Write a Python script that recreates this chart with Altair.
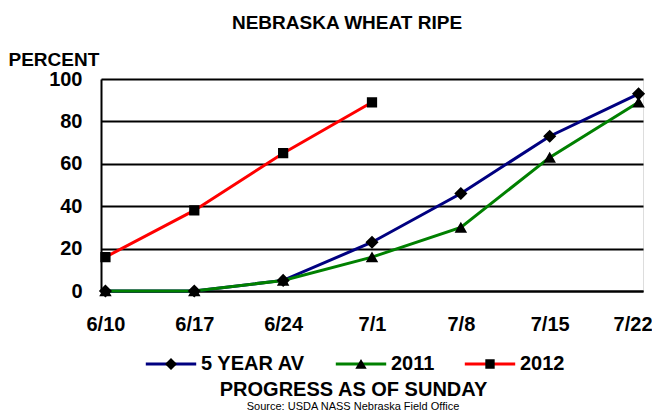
import altair as alt
import pandas as pd

dates = ["6/10", "6/17", "6/24", "7/1", "7/8", "7/15", "7/22"]
series = ["5 YEAR AV", "2011", "2012"]
avg5 = [0, 0, 5, 23, 46, 73, 93]
y2011 = [0, 0, 5, 16, 30, 63, 89]
y2012 = [16, 38, 65, 89]
colors = ["#000080", "#008000", "#FF0000"]

# marker paths (unit box), with invisible extents matching the legend line length
EXT = "M-4.2,0Z M4.2,0Z "
shapes = [
    EXT + "M-1,0 L0,-1 L1,0 L0,1 Z",
    EXT + "M0,-0.85 L0.95,0.8 L-0.95,0.8 Z",
    EXT + "M-0.78,-0.78 L0.78,-0.78 L0.78,0.78 L-0.78,0.78 Z",
]
LINE_SYMBOL = "M-4.2,0 L4.2,0"

rows = []
for name, vals in zip(series, [avg5, y2011, y2012]):
    for i, v in enumerate(vals):
        rows.append({"date": dates[i], "series": name, "series_m": name, "value": v,
                     "order": series.index(name)})
df = pd.DataFrame(rows)

FONT = "Liberation Sans"
SYM_SIZE = 144

x_enc = alt.X(
    "date:N", sort=dates,
    scale=alt.Scale(type="point", padding=0.05),
    axis=alt.Axis(
        labelAngle=0, labelFont=FONT, labelFontWeight="bold", labelFontSize=20,
        labelColor="black", labelPadding=23, ticks=False,
        labelOffset=alt.ExprRef(expr="datum.value === '7/22' ? -6 : 0"),
        domainColor="black", domainWidth=2,
        title="PROGRESS AS OF SUNDAY", titleFont=FONT, titleFontWeight="bold",
        titleFontSize=20, titleColor="black", titleX=252, titleY=98,
        titleAlign="center", titleBaseline="middle", titleAnchor="middle",
    ),
)
y_enc = alt.Y(
    "value:Q",
    scale=alt.Scale(domain=[0, 100], nice=False),
    axis=alt.Axis(
        values=[0, 20, 40, 60, 80, 100], grid=True, gridColor="black", gridWidth=2,
        gridOpacity=1, ticks=False, domainColor="black", domainWidth=2,
        labelFont=FONT, labelFontWeight="bold", labelFontSize=20, labelColor="black",
        labelPadding=19,
        title="PERCENT", titleFont=FONT, titleFontWeight="bold", titleFontSize=19,
        titleColor="black", titleAngle=0, titleX=-93, titleY=-20,
        titleAlign="left", titleBaseline="middle",
    ),
)

legend_common = dict(
    orient="none", legendX=41, legendY=275, direction="horizontal", title=None,
    symbolSize=SYM_SIZE, symbolStrokeWidth=3, symbolOffset=19, clipHeight=20,
    labelFont=FONT, labelFontWeight="bold", labelFontSize=20, labelColor="black",
    labelOffset=20, columnPadding=26, padding=0,
)

lines = alt.Chart(df).mark_line(strokeWidth=3).encode(
    x=x_enc, y=y_enc,
    color=alt.Color(
        "series:N", sort=series,
        scale=alt.Scale(domain=series, range=colors),
        legend=alt.Legend(symbolType=LINE_SYMBOL, **legend_common),
    ),
    order="order:Q",
)

points = alt.Chart(df).mark_point(
    filled=True, color="black", size=SYM_SIZE * 1.2, opacity=1
).encode(
    x=x_enc, y=y_enc,
    shape=alt.Shape(
        "series_m:N", sort=series,
        scale=alt.Scale(domain=series, range=shapes),
        legend=alt.Legend(
            symbolFillColor="black", symbolStrokeColor="black", symbolOpacity=1,
            labelOpacity=0, **legend_common,
        ),
    ),
)

source = alt.Chart(pd.DataFrame({"t": ["Source: USDA NASS Nebraska Field Office"]})).mark_text(
    font=FONT, fontSize=11, color="black", align="center", baseline="alphabetic"
).encode(text="t:N", x=alt.value(252), y=alt.value(331))

chart = alt.layer(lines, points, source).resolve_legend(
    color="independent", shape="independent"
).properties(
    width=542, height=212,
    title=alt.TitleParams(
        "NEBRASKA WHEAT RIPE", font=FONT, fontWeight="bold", fontSize=19,
        color="black", anchor="middle", dx=-25, offset=17,
    ),
    autosize=alt.AutoSizeParams(type="none"),
    padding={"left": 93, "top": 71, "right": 9, "bottom": 120},
).configure_view(stroke="black", strokeWidth=2).configure(background="white")

chart.save("out.html", embed_options={"renderer": "svg", "actions": False})
